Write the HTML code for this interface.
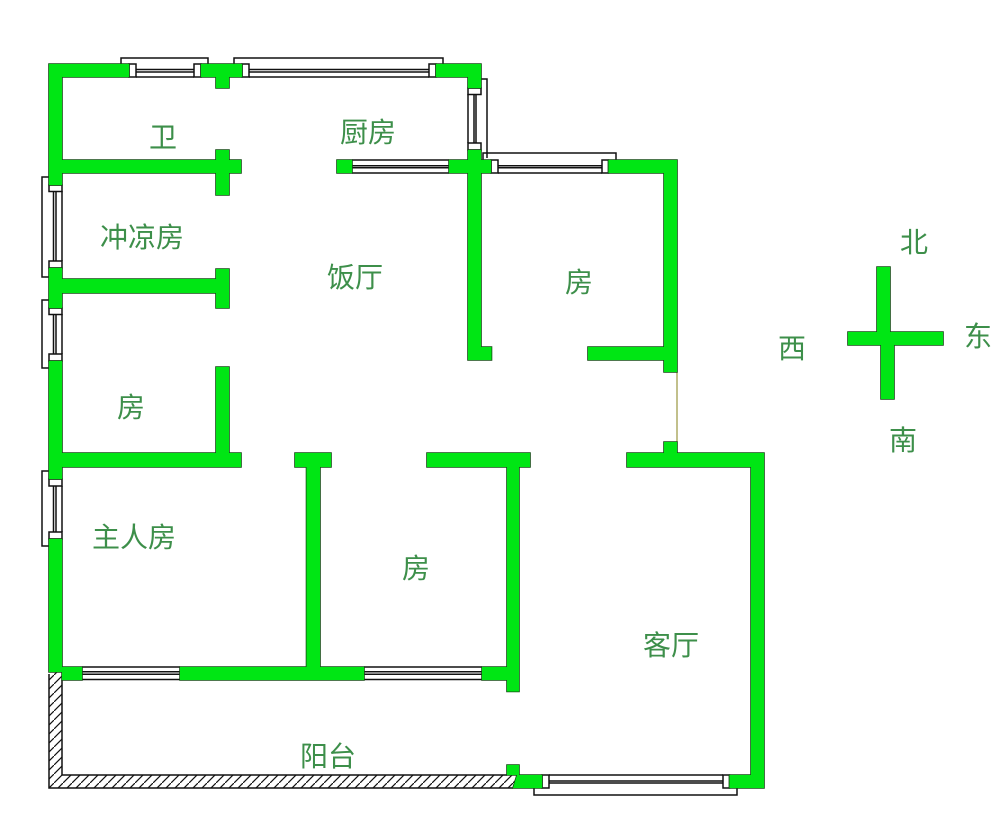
<!DOCTYPE html>
<html><head><meta charset="utf-8"><style>
html,body{margin:0;padding:0;background:#fff}
svg{display:block}
text{font-family:"Liberation Sans","Noto Sans CJK SC",sans-serif;font-size:28px;fill:#3d8f4a;text-anchor:middle}
.w{fill:#fff;stroke:#111;stroke-width:1.5}
.l{stroke:#111;stroke-width:1.5;fill:none}
</style></head><body>
<svg width="1000" height="818" viewBox="0 0 1000 818" xmlns="http://www.w3.org/2000/svg">
<defs>
<pattern id="h" patternUnits="userSpaceOnUse" width="9" height="9"><path d="M-1 10L10 -1" stroke="#111" stroke-width="1.200"/></pattern>
<path id="g" d="M49 64H129V77H49Z M49 64H62V185H49Z M201 64H242V77H201Z M216 70H229V88H216Z M436 64H481V77H436Z M468 64H481V88H468Z
M49 160H216V173H49Z M216 150H229V195H216Z M216 160H241V173H216Z
M49 268H62V308H49Z M49 279H216V293H49Z M216 269H229V308H216Z
M49 361H62V479H49Z M216 367H229V453H216Z M49 453H241V467H49Z
M49 539H62V672H49Z
M337 160H352V173H337Z M449 160H491V173H449Z M468 150H481V360H468Z M468 347H491.500V360H468Z
M608.500 160H677V173H608.500Z M664 160H677V372H664Z M588 347H664V360H588Z
M664 442H677V453H664Z M627 453H764V467H627Z M751 453H764V788H751Z
M427 453H530V467H427Z M507 453H519V691.500H507Z M482 667H507V680H482Z
M295 453H331V467H295Z M306.500 453H320V667H306.500Z M180 667H364V680H180Z M62 667H82V680H62Z
M507 765H519V775H507Z M517 775H542V788H513Z M729.500 775H764V788H729.500Z
M877 267H890V332H877Z M848 332H943V345H848Z M881 345H894V399H881Z"/>
</defs>
<rect width="1000" height="818" fill="#fff"/>

<!-- balcony hatch -->
<path d="M49 674L62 667V775H517L513 788H49Z" fill="url(#h)" stroke="none"/>
<path d="M49 674V788H513 M62 680V775H507" fill="none" stroke="#111" stroke-width="1.500"/>

<!-- top windows -->
<path class="l" d="M121 64V58H208V64 M234 64V58H443V64"/>
<path class="l" d="M136 69.500H194M136 72H194M136 77H194 M249 69.500H429M249 72H429M249 77H429"/>
<rect class="w" x="129" y="64" width="7" height="13"/><rect class="w" x="194" y="64" width="7" height="13"/>
<rect class="w" x="242" y="64" width="7" height="13"/><rect class="w" x="429" y="64" width="7" height="13"/>

<!-- kitchen right window -->
<path class="l" d="M481 79H487V158 M474 94V143M476 94V143M468 94V143"/>
<rect class="w" x="468" y="88" width="13" height="6.500"/><rect class="w" x="468" y="143" width="13" height="7"/>

<!-- kitchen bottom window -->
<path class="l" d="M352 160H449M352 165.700H449M352 167.700H449M352 173H449"/>
<!-- right room top window -->
<path class="l" d="M483 160V153H616V160 M498 165.700H602M498 167.700H602M498 173H602"/>
<rect class="w" x="491" y="160" width="7" height="13"/><rect class="w" x="602" y="160" width="6.500" height="13"/>

<!-- left windows -->
<path class="l" d="M49 177H42V277H49 M53.500 191V261M56 191V261M62 191V261"/>
<rect class="w" x="49" y="185" width="13" height="6.500"/><rect class="w" x="49" y="261" width="13" height="7"/>
<path class="l" d="M49 300H42V368H49 M53.500 314V354M56 314V354M62 314V354"/>
<rect class="w" x="49" y="308" width="13" height="6.500"/><rect class="w" x="49" y="354" width="13" height="7"/>
<path class="l" d="M49 471H42V546H49 M53.500 486V532M56 486V532M62 486V532"/>
<rect class="w" x="49" y="479" width="13" height="7"/><rect class="w" x="49" y="532" width="13" height="7"/>

<!-- south inner windows -->
<path class="l" d="M82 667H180M82 671.700H180M82 674.300H180M82 679.500H180 M364 667H482M364 671.700H482M364 674.300H482M364 679.500H482"/>

<!-- bottom window -->
<path class="l" d="M534 788V795H737V788 M549 775H723M549 781H723M549 783H723"/>
<rect class="w" x="542" y="775" width="7" height="13"/><rect class="w" x="723" y="775" width="6.500" height="13"/>

<!-- thin door line -->
<path d="M677 372V442" stroke="#9a9640" stroke-width="1.200" fill="none"/>

<!-- walls -->
<use href="#g" fill="none" stroke="#144a14" stroke-width="1.600"/>
<use href="#g" fill="#00e614"/>

<!-- labels -->
<text x="163" y="147">卫</text>
<text x="368" y="142">厨房</text>
<text x="142" y="247">冲凉房</text>
<text x="355" y="287">饭厅</text>
<text x="579" y="292">房</text>
<text x="131" y="417">房</text>
<text x="134" y="547">主人房</text>
<text x="416" y="578">房</text>
<text x="671" y="655">客厅</text>
<text x="328" y="766">阳台</text>
<text x="914" y="252">北</text>
<text x="792" y="358">西</text>
<text x="978" y="346">东</text>
<text x="903" y="450">南</text>
</svg>
</body></html>
